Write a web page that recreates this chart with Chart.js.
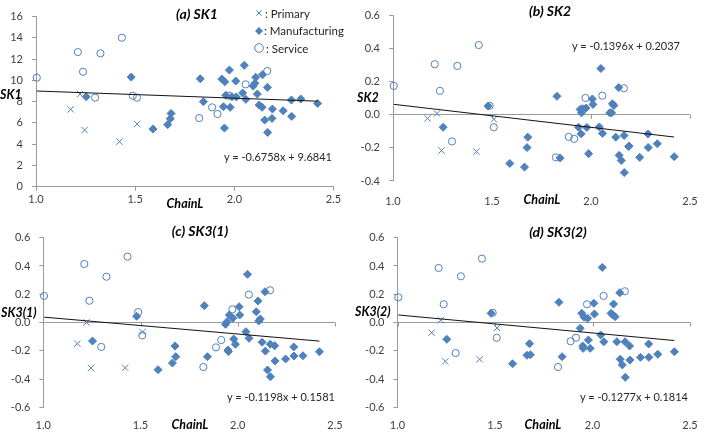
<!DOCTYPE html>
<html>
<head>
<meta charset="utf-8">
<script src="https://cdn.jsdelivr.net/npm/chart.js@4.4.1/dist/chart.umd.min.js"></script>
<style>
  html, body { margin: 0; padding: 0; background: #fff; }
  #wrap { position: relative; width: 715px; height: 447px; overflow: hidden; font-family: Lato, "Open Sans", sans-serif; }
  #wrap canvas { position: absolute; left: 0; top: 0; }
  .t { position: absolute; white-space: nowrap; line-height: 1; }
  .title { font-weight: bold; font-style: italic; font-size: 14px; color: #000; transform: translate(-50%, -50%); }
  .ax { font-weight: bold; font-style: italic; font-size: 12.5px; color: #000; }
  .ylab { transform: translateY(-50%); }
  .xlab { transform: translate(-50%, -50%); }
  .eq { font-size: 11px; color: #262626; transform: translateY(-50%); }
  .leg { font-size: 11.5px; color: #262626; transform: translateY(-50%); }
  svg.mk { position: absolute; overflow: visible; }
</style>
</head>
<body>
<div id="wrap">
  <canvas id="cA" width="715" height="447"></canvas>
  <canvas id="cB" width="715" height="447"></canvas>
  <canvas id="cC" width="715" height="447"></canvas>
  <canvas id="cD" width="715" height="447"></canvas>

  <div class="t title" style="left:197px;top:13.5px">(a) SK1</div>
  <div class="t title" style="left:550px;top:11px">(b) SK2</div>
  <div class="t title" style="left:200px;top:231px">(c) SK3(1)</div>
  <div class="t title" style="left:558px;top:231.5px">(d) SK3(2)</div>

  <div class="t ax ylab" style="left:0px;top:95px">SK1</div>
  <div class="t ax ylab" style="left:357px;top:98px">SK2</div>
  <div class="t ax ylab" style="left:1px;top:313px">SK3(1)</div>
  <div class="t ax ylab" style="left:355px;top:312px">SK3(2)</div>

  <div class="t ax xlab" style="left:185px;top:204px">ChainL</div>
  <div class="t ax xlab" style="left:542px;top:200px">ChainL</div>
  <div class="t ax xlab" style="left:190px;top:425px">ChainL</div>
  <div class="t ax xlab" style="left:543px;top:425px">ChainL</div>

  <div class="t eq" style="left:224px;top:156px">y = -0.6758x + 9.6841</div>
  <div class="t eq" style="left:572px;top:45px">y = -0.1396x + 0.2037</div>
  <div class="t eq" style="left:227px;top:396px">y = -0.1198x + 0.1581</div>
  <div class="t eq" style="left:580px;top:396px">y = -0.1277x + 0.1814</div>

  <!-- leyenda -->
  <svg class="mk" style="left:259px;top:13px" width="1" height="1">
    <path d="M-2.7,-2.7 L2.7,2.7 M-2.7,2.7 L2.7,-2.7" stroke="#4F81BD" stroke-width="1" fill="none"/>
  </svg>
  <svg class="mk" style="left:259px;top:30.5px" width="1" height="1">
    <path d="M0,-4 L4,0 L0,4 L-4,0 Z" fill="#4F81BD"/>
  </svg>
  <svg class="mk" style="left:258.5px;top:48px" width="1" height="1">
    <circle cx="0" cy="0" r="4.3" stroke="#4F81BD" stroke-width="1" fill="none"/>
  </svg>
  <div class="t leg" style="left:265px;top:13.5px">: Primary</div>
  <div class="t leg" style="left:264px;top:31px">: Manufacturing</div>
  <div class="t leg" style="left:266px;top:48.5px">: Service</div>
</div>

<script>
// Ejes
const xTicks = [1.0, 1.5, 2.0, 2.5];
const sk1Ticks = [0, 2, 4, 6, 8, 10, 12, 14, 16];
const sk2Ticks = [-0.4, -0.2, 0, 0.2, 0.4, 0.6];
const sk3Ticks = [-0.6, -0.4, -0.2, 0, 0.2, 0.4, 0.6];

// ChainL por grupo
const primaryX = [1.175, 1.222, 1.245, 1.421, 1.510];
const serviceX = [1.004, 1.211, 1.237, 1.298, 1.325, 1.433, 1.488, 1.509, 1.823, 1.888, 1.915, 1.972, 2.057, 2.166];
const mfgX = [1.253, 1.480, 1.590, 1.664, 1.677, 1.681, 1.828, 1.844, 1.937, 1.945, 1.950, 1.952, 1.957,
  1.975, 1.979, 1.988, 2.007, 2.010, 2.042, 2.050, 2.058, 2.095, 2.104, 2.108, 2.116, 2.125, 2.140,
  2.142, 2.153, 2.167, 2.168, 2.190, 2.192, 2.246, 2.288, 2.289, 2.335, 2.420];

// (a) SK1
const sk1Primary = [7.28, 8.72, 5.33, 4.24, 5.9];
const sk1Service = [10.26, 12.67, 10.82, 8.38, 12.55, 14.02, 8.56, 8.38, 6.46, 7.47, 6.84, 8.56, 9.63, 10.89];
const sk1Mfg = [8.47, 10.32, 5.43, 5.84, 6.4, 6.9, 10.16, 8.0, 10.13, 7.53, 5.52, 9.88, 8.6, 10.98, 7.47,
  8.47, 9.94, 8.45, 8.82, 11.42, 8.22, 9.47, 9.73, 10.29, 8.72, 7.69, 7.47, 10.54, 6.27, 9.35, 5.11,
  6.43, 7.31, 7.15, 8.16, 6.62, 8.25, 7.84];
const sk1Trend = [-0.6758, 9.6841];

// (b) SK2
const sk2Primary = [-0.022, 0.008, -0.216, -0.222, -0.027];
const sk2Service = [0.175, 0.306, 0.145, -0.161, 0.296, 0.422, 0.055, -0.075, -0.257, -0.133, -0.145, 0.102, 0.116, 0.161];
const sk2Mfg = [-0.075, 0.053, -0.294, -0.316, -0.198, -0.135, 0.112, -0.261, -0.075, 0.033, -0.115, 0.012,
  0.037, 0.041, -0.076, -0.235, 0.096, 0.063, -0.073, 0.280, -0.112, 0.012, 0.012, 0.067, 0.057, -0.135,
  0.165, -0.245, -0.276, -0.125, -0.349, -0.192, -0.188, -0.257, -0.116, -0.198, -0.175, -0.253];
const sk2Trend = [-0.1396, 0.2037];

// (c) SK3(1)
const sk31Primary = [-0.15, 0.0, -0.322, -0.32, -0.067];
const sk31Service = [0.188, 0.414, 0.154, -0.173, 0.324, 0.466, 0.074, -0.091, -0.315, -0.176, -0.124, 0.093, 0.197, 0.228];
const sk31Mfg = [-0.131, 0.044, -0.334, -0.287, -0.166, -0.242, 0.119, -0.242, -0.013, 0.006, -0.195, -0.206,
  0.053, 0.03, -0.117, -0.154, 0.112, 0.053, -0.065, 0.341, -0.112, 0.076, 0.152, 0.011, 0.025, -0.14,
  0.218, -0.202, -0.336, -0.154, -0.384, -0.164, -0.272, -0.258, -0.173, -0.237, -0.235, -0.207];
const sk31Trend = [-0.1198, 0.1581];

// (d) SK3(2)
const sk32Primary = [-0.072, 0.016, -0.275, -0.26, -0.039];
const sk32Service = [0.178, 0.386, 0.129, -0.216, 0.327, 0.452, 0.069, -0.108, -0.315, -0.133, -0.108, 0.129, 0.188, 0.221];
const sk32Mfg = [-0.119, 0.065, -0.292, -0.232, -0.15, -0.228, 0.143, -0.242, -0.041, 0.065, -0.166, -0.183,
  0.037, 0.03, -0.124, -0.183, 0.136, 0.06, -0.088, 0.39, -0.136, 0.065, 0.053, 0.131, 0.041, -0.136,
  0.211, -0.26, -0.3, -0.136, -0.388, -0.166, -0.265, -0.246, -0.152, -0.246, -0.225, -0.207];
const sk32Trend = [-0.1277, 0.1814];

const BLUE = '#4F81BD';
const AXIS = '#9a9a9a';
const TICK_FONT = { family: 'Lato', size: 11 };
const TICK_COLOR = '#404040';
const Y_W = 40;  // ancho fijo del eje Y
const X_H = 34;  // alto fijo del eje X

const allX = primaryX.concat(serviceX, mfgX);
const xMin = Math.min(...allX), xMax = Math.max(...allX);

function pts(xs, ys) {
  return xs.map((x, i) => ({ x: x, y: ys[i] }));
}

// Marcas del eje X sobre la linea del cero (paneles b, c, d)
const zeroTicks = {
  id: 'zeroTicks',
  beforeDatasetsDraw(chart, args, opts) {
    if (!opts.on) return;
    const ctx = chart.ctx, xs = chart.scales.x, y0 = chart.scales.y.getPixelForValue(0);
    ctx.save();
    ctx.strokeStyle = AXIS;
    ctx.lineWidth = 1;
    xTicks.forEach(v => {
      const px = Math.round(xs.getPixelForValue(v)) + 0.5;
      ctx.beginPath();
      ctx.moveTo(px, y0);
      ctx.lineTo(px, y0 + 4);
      ctx.stroke();
    });
    ctx.restore();
  }
};

// Dibuja un panel; box = bordes del area de trazado en la pagina
function panel(id, box, yTicks, yFmt, primary, service, mfg, trend, xPad, bottomAxis) {
  const [a, b] = trend;
  new Chart(document.getElementById(id), {
    type: 'scatter',
    data: {
      datasets: [
        { data: [{ x: xMin, y: a * xMin + b }, { x: xMax, y: a * xMax + b }], showLine: true,
          borderColor: '#111', borderWidth: 1, pointRadius: 0, clip: false },
        { data: pts(primaryX, primary), pointStyle: 'crossRot', pointRadius: 4.5,
          borderColor: BLUE, borderWidth: 1, clip: false },
        { data: pts(serviceX, service), pointStyle: 'circle', pointRadius: 3.6,
          borderColor: BLUE, backgroundColor: 'rgba(255,255,255,0)', borderWidth: 1, clip: false },
        { data: pts(mfgX, mfg), pointStyle: 'rectRot', pointRadius: 4,
          borderColor: BLUE, backgroundColor: BLUE, borderWidth: 1, clip: false }
      ]
    },
    plugins: [zeroTicks],
    options: {
      responsive: false,
      animation: false,
      events: [],
      layout: { padding: { left: box.l - Y_W, top: box.t, right: 715 - box.r, bottom: 447 - box.b - X_H } },
      plugins: { legend: { display: false }, tooltip: { enabled: false }, zeroTicks: { on: !bottomAxis } },
      scales: {
        x: {
          type: 'linear', min: 1, max: 2.5,
          afterBuildTicks: s => { s.ticks = xTicks.map(v => ({ value: v })); },
          afterFit: s => { s.height = X_H; },
          border: { display: bottomAxis, color: AXIS },
          grid: { display: bottomAxis, drawOnChartArea: false, color: AXIS, tickLength: 4 },
          ticks: { padding: xPad, font: TICK_FONT, color: TICK_COLOR, maxRotation: 0, autoSkip: false,
            callback: v => v.toFixed(1) }
        },
        y: {
          type: 'linear', min: yTicks[0], max: yTicks[yTicks.length - 1],
          afterBuildTicks: s => { s.ticks = yTicks.map(v => ({ value: v })); },
          afterFit: s => { s.width = Y_W; },
          border: { color: AXIS },
          grid: {
            color: c => (!bottomAxis && c.tick && c.tick.value === 0) ? AXIS : 'rgba(0,0,0,0)',
            tickColor: AXIS, tickLength: 4
          },
          ticks: { padding: 9, font: TICK_FONT, color: TICK_COLOR, autoSkip: false, callback: yFmt }
        }
      }
    }
  });
}

window.onload = function() {
  const fmt1 = v => v.toFixed(1);
  const fmt0 = v => String(v);
  panel('cA', { l: 36, t: 16.7, r: 333.5, b: 186.7 }, sk1Ticks, fmt0, sk1Primary, sk1Service, sk1Mfg, sk1Trend, 2, true);
  panel('cB', { l: 393, t: 11, r: 690, b: 181 }, sk2Ticks, fmt1, sk2Primary, sk2Service, sk2Mfg, sk2Trend, 10, false);
  panel('cC', { l: 43.3, t: 237.7, r: 335, b: 407.3 }, sk3Ticks, fmt1, sk31Primary, sk31Service, sk31Mfg, sk31Trend, 8, false);
  panel('cD', { l: 397.5, t: 237.7, r: 690, b: 407.3 }, sk3Ticks, fmt1, sk32Primary, sk32Service, sk32Mfg, sk32Trend, 8, false);
};
</script>
</body>
</html>
